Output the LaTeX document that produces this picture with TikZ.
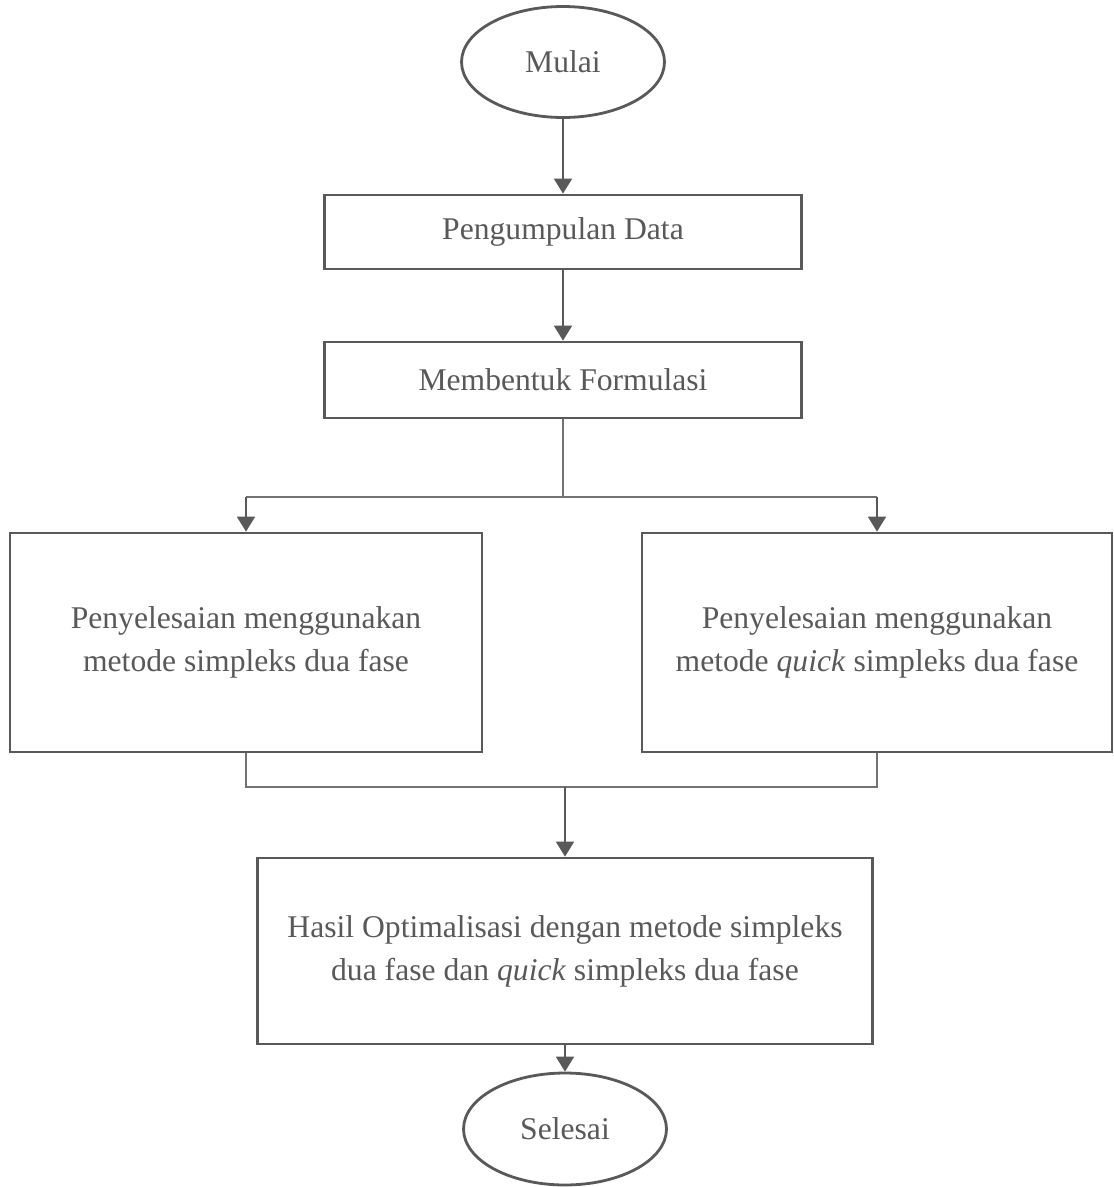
\documentclass[tikz,border=0pt]{standalone}
\usepackage{fontspec}
\setmainfont{Liberation Serif}
\usetikzlibrary{shapes.geometric,arrows.meta}
\definecolor{alurabu}{HTML}{595959}

\tikzset{
    kotak/.style={draw=alurabu, line width=1.6pt, align=center, inner sep=0pt, text=alurabu},
    elips/.style={ellipse, draw=alurabu, line width=1.6pt, inner sep=0pt, text=alurabu},
    panah/.style={draw=alurabu, line width=1.1pt, -{Triangle[width=0.36cm,length=0.3cm]}},
    garis/.style={draw=alurabu!85, line width=0.7pt}
}

\begin{document}
\begin{tikzpicture}[x=0.02cm, y=-0.02cm, font=\fontsize{18}{24.5}\selectfont]
        \useasboundingbox (0, 0) rectangle (1113, 1187);

        \node[elips, minimum width=4.06cm, minimum height=2.22cm] (mulai) at (563, 62) {Mulai};
        \node[kotak, minimum width=9.54cm, minimum height=1.48cm] (kumpul) at (563, 232) {Pengumpulan Data};
        \node[kotak, minimum width=9.54cm, minimum height=1.52cm] (formulasi) at (563, 380) {Membentuk Formulasi};

        \node[kotak, minimum width=9.44cm, minimum height=4.38cm] (kiri) at (246, 642.5)
            {Penyelesaian menggunakan\\metode simpleks dua fase};
        \node[kotak, minimum width=9.4cm, minimum height=4.38cm] (kanan) at (877, 642.5)
            {Penyelesaian menggunakan\\metode \textit{quick} simpleks dua fase};

        \node[kotak, minimum width=12.3cm, minimum height=3.72cm] (hasil) at (565, 951)
            {Hasil Optimalisasi dengan metode simpleks\\dua fase dan \textit{quick} simpleks dua fase};
        \node[elips, minimum width=4.06cm, minimum height=2.24cm] (selesai) at (565, 1129) {Selesai};

        \coordinate (cabang) at (563, 497);
        \coordinate (gabung) at (565, 787);

        \draw[panah] (mulai) -- (kumpul);
        \draw[panah] (kumpul) -- (formulasi);

        % percabangan ke dua metode
        \draw[garis] (formulasi.south) -- (cabang);
        \draw[garis] (cabang -| kiri) -- (cabang -| kanan);
        \draw[panah] (cabang -| kiri) -- (kiri);
        \draw[panah] (cabang -| kanan) -- (kanan);

        % penggabungan hasil
        \draw[garis] (kiri.south) -- (kiri.south |- gabung) -- (kanan.south |- gabung) -- (kanan.south);
        \draw[panah] (gabung) -- (hasil);
        \draw[panah] (hasil) -- (selesai);
    \end{tikzpicture}
\end{document}
